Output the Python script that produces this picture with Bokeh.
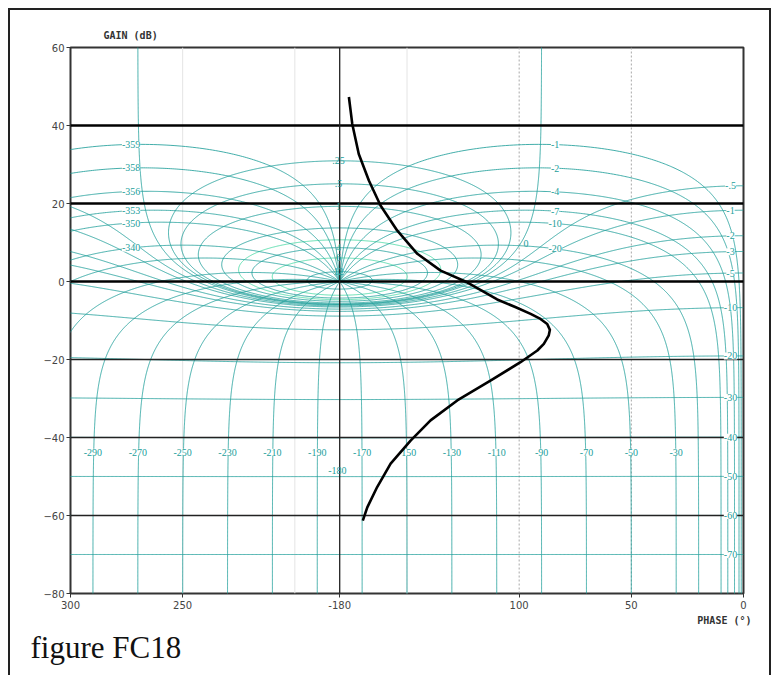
import numpy as np
from bokeh.plotting import figure
from bokeh.models import (ColumnDataSource, LabelSet, FixedTicker, Span, Title,
                          InlineStyleSheet)
from bokeh.embed import file_html
from bokeh.resources import INLINE

# ---------------- data ----------------
curve_phase = [-175.9, -174.4, -171.5, -167.0, -161.8, -154.4, -145.4, -135.0,
               -123.2, -109.8, -101.5, -94.9, -90.5, -87.5, -86.3, -86.8, -89.0,
               -91.9, -99.4, -112.8, -127.6, -139.5, -148.4, -157.3, -163.3,
               -167.7, -169.7]
curve_gain = [47.3, 40.4, 32.7, 25.9, 19.5, 13.1, 7.1, 2.8,
              -0.2, -4.6, -6.6, -8.3, -9.6, -10.9, -12.4, -13.8, -16.0,
              -17.7, -20.7, -25.4, -30.5, -35.6, -40.8, -46.7, -52.7,
              -57.9, -61.3]

# closed-loop magnitude contours (dB)
m_pos_db = [0.25, 0.5, 1, 2, 3, 4, 6, 12]
m_zero_db = [0]
m_neg_db = [-0.5, -1, -2, -3, -5, -10, -20, -30, -40, -50, -60, -70]
# closed-loop phase contours (deg)
n_deg = [-1, -2, -4, -7, -10, -20, -30, -50, -70, -90, -110, -130, -150, -170,
         -190, -210, -230, -250, -270, -290, -310, -330, -340, -350, -353,
         -356, -358, -359]

m_center_vals = [0.25, 0.5, 1, 4, 6, 12]
m_center_text = [".25", ".5", "1", "4", "6", "12"]
m_right_vals = [-0.5, -1, -2, -3, -5, -10, -20, -30, -40, -50, -60, -70]
m_right_text = ["-.5", "-1", "-2", "-3", "-5", "-10", "-20", "-30", "-40",
                "-50", "-60", "-70"]
n_left_vals = [-359, -358, -356, -353, -350, -340]
n_left_text = ["-359", "-358", "-356", "-353", "-350", "-340"]
n_right_vals = [-1, -2, -4, -7, -10, -20]
n_right_text = ["-1", "-2", "-4", "-7", "-10", "-20"]
n_bottom_vals = [-290, -270, -250, -230, -210, -190, -170, -150, -130, -110,
                 -90, -70, -50, -30]
n_bottom_text = [str(v) for v in n_bottom_vals]

x_ticks = [-300, -250, -180, -100, -50, 0]
x_tick_text = ["300", "250", "-180", "100", "50", "0"]
y_ticks = [-80, -60, -40, -20, 0, 20, 40, 60]

# ---------------- geometry ----------------
FW, FH = 673, 546
X0, X1, Y0, Y1 = -300, 0, -80, 60
XS, YS = FW / (X1 - X0), FH / (Y1 - Y0)

TEAL = "#22a09b"
LIGHT = "#4ad9a6"


def to_db_ph(G):
    g = 20 * np.log10(np.abs(G))
    ph = np.degrees(np.angle(G))
    ph = np.where(ph > 0, ph - 360, ph)
    return ph, g


def segments(ph, g):
    inside = (np.isfinite(ph) & np.isfinite(g) & (ph >= -320) & (ph <= 15)
              & (g >= -95) & (g <= 75))
    jumps = np.where(np.abs(np.diff(ph)) > 90)[0] + 1
    edges = np.where(np.diff(inside.astype(int)) != 0)[0] + 1
    bnd = sorted(set(jumps.tolist()) | set(edges.tolist()))
    out = []
    for part in np.split(np.arange(len(ph)), bnd):
        if len(part) < 2 or not inside[part[0]]:
            continue
        px, py = ph[part] * XS, g[part] * YS
        s = np.concatenate([[0], np.cumsum(np.hypot(np.diff(px), np.diff(py)))])
        _, keep = np.unique(np.floor(s / 0.8), return_index=True)
        keep = np.unique(np.concatenate([keep, [len(part) - 1]]))
        out.append((ph[part][keep], g[part][keep]))
    return out


def m_contour(mdb):
    M = 10 ** (mdb / 20)
    if mdb == 0:
        y = np.concatenate([-np.logspace(5, -4, 6000), np.logspace(-4, 5, 6000)])
        G = -0.5 + 1j * y
    else:
        c = M ** 2 / (1 - M ** 2)
        r = abs(M / (1 - M ** 2))
        th = np.linspace(0, 2 * np.pi, 30000)
        G = c + r * np.exp(1j * th)
    return to_db_ph(G)


def n_contour(psi):
    m = np.logspace(-5, 5, 40000)
    T = m * np.exp(1j * np.radians(psi))
    G = T / (1 - T)
    return to_db_ph(G)


frame_css = InlineStyleSheet(css="""
:host { position: relative; }
:host::after {
  content: ""; position: absolute; left: 8px; top: 8px; right: 8px; bottom: -4px;
  border: 2.5px solid #222222; border-bottom: none; pointer-events: none;
  z-index: 100;
}
""")

p = figure(frame_width=FW, frame_height=FH, x_range=(X0, X1), y_range=(Y0, Y1),
           output_backend="svg", toolbar_location=None,
           min_border_left=70, min_border_right=36, min_border_top=47,
           min_border_bottom=82, background_fill_color="white",
           border_fill_color="white", stylesheets=[frame_css])
p.xgrid.grid_line_color = None
p.ygrid.grid_line_color = None
p.outline_line_color = "#333333"
p.outline_line_width = 2

# faint background grid
for v in [-250, -200, -150]:
    p.add_layout(Span(location=v, dimension="height", line_color="#e4e4e4",
                      line_width=1, level="underlay"))
for v in [-100, -50]:
    p.add_layout(Span(location=v, dimension="height", line_color="#a8a8a8",
                      line_width=1, line_dash="2 2", level="underlay"))

# contours
xs_all, ys_all, col_all = [], [], []
for mdb in m_pos_db + m_zero_db + m_neg_db:
    ph, g = m_contour(mdb)
    col = LIGHT if mdb in (3, 6) else TEAL
    for a, b in segments(ph, g):
        xs_all.append(a.tolist()); ys_all.append(b.tolist()); col_all.append(col)
for psi in n_deg:
    ph, g = n_contour(psi)
    for a, b in segments(ph, g):
        xs_all.append(a.tolist()); ys_all.append(b.tolist()); col_all.append(TEAL)
p.multi_line(xs="xs", ys="ys", line_color="c", line_width=1, line_alpha=0.85,
             source=ColumnDataSource(dict(xs=xs_all, ys=ys_all, c=col_all)))

# black reference lines
for v in [40, 20, 0]:
    p.add_layout(Span(location=v, dimension="width", line_color="black",
                      line_width=2.5))
for v in [-20, -40, -60]:
    p.add_layout(Span(location=v, dimension="width", line_color="#222222",
                      line_width=1.5))
p.add_layout(Span(location=-180, dimension="height", line_color="#222222",
                  line_width=1.3))

# the open-loop curve (drawn above the labels)
p.line(curve_phase, curve_gain, line_color="black", line_width=2.6,
       line_join="round", level="overlay")

# ---------------- contour labels ----------------
FONT = "DejaVu Sans"


def add_labels(xv, yv, texts, bg=True, size="10px"):
    src = ColumnDataSource(dict(x=xv, y=yv, t=texts))
    kw = dict(x="x", y="y", text="t", source=src, text_color=TEAL,
              text_font=FONT, text_font_size=size, text_align="center",
              text_baseline="middle")
    if bg:
        kw.update(background_fill_color="white", background_fill_alpha=1.0)
    p.add_layout(LabelSet(**kw))


mc_y = []
for v in m_center_vals:
    M = 10 ** (v / 20)
    mc_y.append(20 * np.log10(M / (M - 1)))
add_labels([-180.5] * len(mc_y), mc_y, m_center_text, bg=False)

phi = np.radians(-5.8)
mr_y = []
for v in m_right_vals:
    M = 10 ** (v / 20)
    a = 1 - M ** 2
    gg = (M ** 2 * np.cos(phi) + np.sqrt(M ** 4 * np.cos(phi) ** 2 + M ** 2 * a)) / a
    mr_y.append(20 * np.log10(gg))
add_labels([-5.8] * len(mr_y), mr_y, m_right_text)

nl_y = []
for v in n_left_vals:
    ph, g = n_contour(v)
    o = np.argsort(ph)
    nl_y.append(float(np.interp(-273, ph[o], g[o])))
add_labels([-273] * len(nl_y), nl_y, n_left_text)
nr_y = []
for v in n_right_vals:
    ph, g = n_contour(v)
    o = np.argsort(ph)
    nr_y.append(float(np.interp(-84, ph[o], g[o])))
add_labels([-84] * len(nr_y), nr_y, n_right_text)

add_labels(n_bottom_vals, [-43.8] * len(n_bottom_vals), n_bottom_text)
add_labels([-181], [-48.5], ["-180"], bg=False)
add_labels([-97], [9.7], ["0"], bg=False)

# ---------------- axes ----------------
p.xaxis.ticker = FixedTicker(ticks=x_ticks)
p.xaxis.major_label_overrides = {t: s for t, s in zip(x_ticks, x_tick_text)}
p.yaxis.ticker = FixedTicker(ticks=y_ticks)
for ax in (p.xaxis, p.yaxis):
    ax.axis_line_color = None
    ax.minor_tick_line_color = None
    ax.major_tick_line_color = "#333333"
    ax.major_tick_in = 0
    ax.major_tick_out = 4
    ax.major_label_text_font = FONT
    ax.major_label_text_font_size = "10px"
    ax.major_label_text_color = "#444444"
p.yaxis.major_label_standoff = 2
p.xaxis.major_label_standoff = 3

# titles
p.title.text = "GAIN (dB)"
p.title.align = "left"
p.title.offset = 33
p.title.standoff = 14
p.title.text_font = "DejaVu Sans Mono"
p.title.text_font_size = "10px"
p.title.text_font_style = "bold"
p.title.text_color = "#333333"

p.add_layout(Title(text="PHASE (°)", align="right", offset=-8, standoff=2,
                   text_font="DejaVu Sans Mono", text_font_size="10px",
                   text_font_style="bold", text_color="#333333"), "below")
p.add_layout(Title(text="figure FC18", align="left", offset=-40, standoff=2,
                   text_font="Liberation Serif", text_font_size="31px",
                   text_font_style="normal", text_color="#111111"), "below")

open("out.html", "w").write(file_html(p, INLINE))
